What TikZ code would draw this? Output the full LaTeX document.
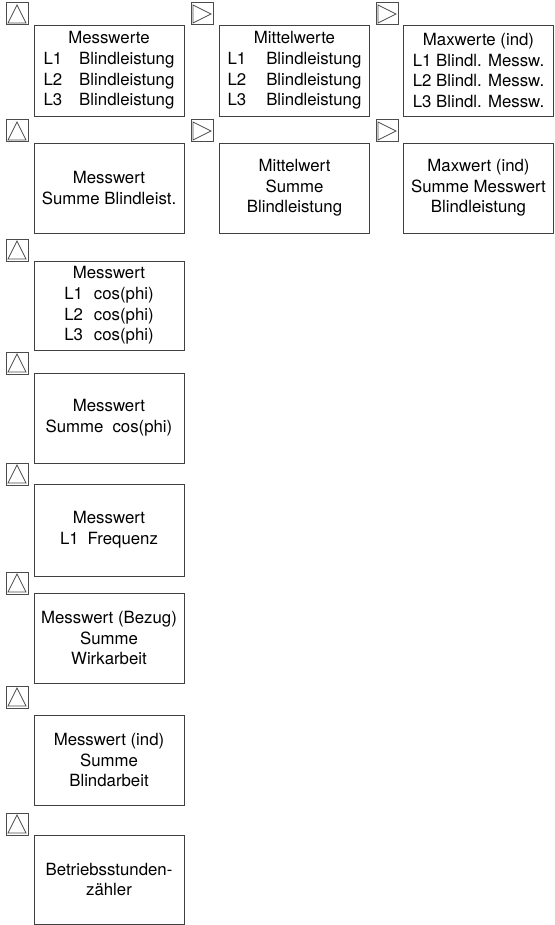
\documentclass[tikz,border=0pt]{standalone}
\usepackage{fontspec}
\setmainfont{TeX Gyre Heros}
\begin{document}
\begin{tikzpicture}[x=1pt,y=-1pt,
  box/.style={draw=black!75, line width=0.9pt, minimum width=150pt, inner sep=0pt, align=center,
    font=\fontsize{16.8}{20.7}\selectfont},
  ico/.style={draw=black!70, line width=1pt, minimum size=22pt, inner sep=0pt},
  icoup/.style={ico, path picture={\draw[line width=0.7pt]
    ([shift={(2pt,2pt)}]path picture bounding box.south west) --
    ([shift={(0pt,-2pt)}]path picture bounding box.north) --
    ([shift={(-2pt,2pt)}]path picture bounding box.south east) -- cycle;}},
  icoright/.style={ico, path picture={\draw[line width=0.7pt]
    ([shift={(2pt,2pt)}]path picture bounding box.south west) --
    ([shift={(2pt,-2pt)}]path picture bounding box.north west) --
    ([shift={(-2pt,0pt)}]path picture bounding box.east) -- cycle;}}
]
\useasboundingbox (0,0) rectangle (554,925);

% row 1
\node[icoup] (i11) at (17,14) {};
\node[box, minimum height=91pt] (b11) at (109,70.5)
  {Messwerte\\L1\hspace{17pt}Blindleistung\\L2\hspace{17pt}Blindleistung\\L3\hspace{17pt}Blindleistung};
\node[icoright] (i12) at (202,14) {};
\node[box, minimum height=91pt] (b12) at (294.5,70.5)
  {Mittelwerte\\L1\hspace{20pt}Blindleistung\\L2\hspace{20pt}Blindleistung\\L3\hspace{20pt}Blindleistung};
\node[icoright] (i13) at (387,14) {};
\node[box, minimum height=91pt] (b13) at (478.5,70.5)
  {Maxwerte (ind)\\L1 Blindl. Messw.\\L2 Blindl. Messw.\\L3 Blindl. Messw.};

% row 2
\node[icoup] (i21) at (17,131) {};
\node[box, minimum height=90pt] (b21) at (109,188) {Messwert\\Summe Blindleist.};
\node[icoright] (i22) at (202,131) {};
\node[box, minimum height=90pt] (b22) at (294.5,188) {Mittelwert\\Summe\\Blindleistung};
\node[icoright] (i23) at (387,131) {};
\node[box, minimum height=90pt] (b23) at (478.5,188) {Maxwert (ind)\\Summe Messwert\\Blindleistung};

% row 3
\node[icoup] (i3) at (17,250) {};
\node[box, minimum height=89pt] (b3) at (109,305.5)
  {Messwert\\L1\hspace{11pt}cos(phi)\\L2\hspace{11pt}cos(phi)\\L3\hspace{11pt}cos(phi)};

% row 4
\node[icoup] (i4) at (17,363) {};
\node[box, minimum height=90pt] (b4) at (109,418) {Messwert\\Summe\hspace{9pt}cos(phi)};

% row 5
\node[icoup] (i5) at (17,474) {};
\node[box, minimum height=92pt] (b5) at (109,530) {Messwert\\L1\hspace{9pt}Frequenz};

% row 6
\node[icoup] (i6) at (17,583) {};
\node[box, minimum height=90pt] (b6) at (109,638) {Messwert (Bezug)\\Summe\\Wirkarbeit};

% row 7
\node[icoup] (i7) at (17,697) {};
\node[box, minimum height=90pt] (b7) at (109,760) {Messwert (ind)\\Summe\\Blindarbeit};

% row 8
\node[icoup] (i8) at (17,824) {};
\node[box, minimum height=89pt] (b8) at (109,879.5) {Betriebsstunden-\\zähler};
\end{tikzpicture}
\end{document}
